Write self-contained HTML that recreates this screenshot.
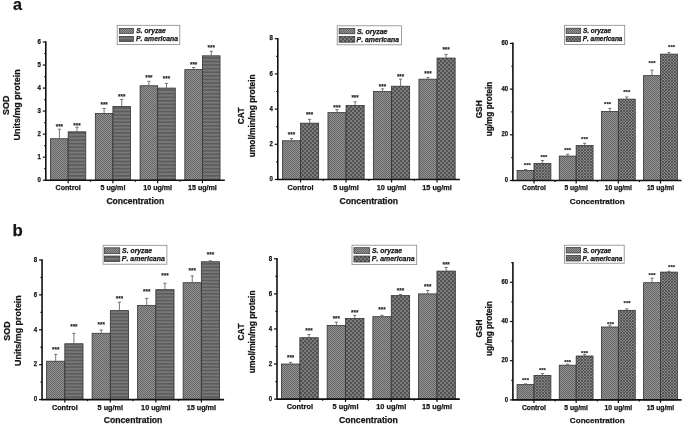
<!DOCTYPE html><html><head><meta charset="utf-8"><style>html,body{margin:0;padding:0;background:#fff;width:685px;height:426px;overflow:hidden}svg{display:block;filter:grayscale(1)}text{font-family:"Liberation Sans", sans-serif;font-weight:bold;fill:#151515;stroke:#151515;stroke-width:0.25px;font-kerning:none}.st{stroke-width:0.12px}</style></head><body>
<svg width="685" height="426" viewBox="0 0 685 426">
<defs>
<pattern id="fineS" width="2" height="2" patternUnits="userSpaceOnUse"><rect width="2" height="2" fill="#929292"/><rect width="1" height="1" fill="#666"/><rect x="1" y="1" width="1" height="1" fill="#666"/></pattern>
<pattern id="hstr" width="4" height="3.57" patternUnits="userSpaceOnUse"><rect width="4" height="3.57" fill="#787878"/><rect width="4" height="1.7" fill="#5c5c5c"/></pattern>
<pattern id="hstr2" width="4" height="3.33" patternUnits="userSpaceOnUse"><rect width="4" height="3.33" fill="#787878"/><rect width="4" height="1.6" fill="#5c5c5c"/></pattern>
<pattern id="chk" width="4" height="4" patternUnits="userSpaceOnUse"><rect width="4" height="4" fill="#7c7c7c"/><rect width="2" height="2" fill="#525252"/><rect x="2" y="2" width="2" height="2" fill="#525252"/></pattern>
<pattern id="dia" width="3" height="3" patternUnits="userSpaceOnUse"><rect width="3" height="3" fill="#888"/><path d="M0 0L3 3M3 0L0 3" stroke="#474747" stroke-width="0.8"/></pattern>
</defs>
<rect width="685" height="426" fill="#fff"/>
<text x="12.9" y="10.1" style="font-size:16.2px">a</text>
<text x="12.6" y="235.5" style="font-size:16.8px">b</text>
<rect x="50.57" y="138.74" width="17.6" height="41.46" fill="url(#fineS)" stroke="#333" stroke-width="0.8"/>
<path d="M59.38 138.74V129.2M57.77 129.2H60.98" stroke="#666" stroke-width="0.9" fill="none"/>
<text x="59.38" y="128.6" text-anchor="middle" class="st" style="font-size:6.3px">***</text>
<rect x="68.17" y="131.83" width="17.6" height="48.37" fill="url(#hstr)" stroke="#333" stroke-width="0.8"/>
<path d="M76.97 131.83V127.3M75.38 127.3H78.57" stroke="#666" stroke-width="0.9" fill="none"/>
<text x="76.97" y="127.9" text-anchor="middle" class="st" style="font-size:6.3px">***</text>
<rect x="95.32" y="113.4" width="17.6" height="66.8" fill="url(#fineS)" stroke="#333" stroke-width="0.8"/>
<path d="M104.12 113.4V108.5M102.52 108.5H105.72" stroke="#666" stroke-width="0.9" fill="none"/>
<text x="104.12" y="106.7" text-anchor="middle" class="st" style="font-size:6.3px">***</text>
<rect x="112.92" y="106.49" width="17.6" height="73.71" fill="url(#hstr)" stroke="#333" stroke-width="0.8"/>
<path d="M121.72 106.49V99.4M120.12 99.4H123.32" stroke="#666" stroke-width="0.9" fill="none"/>
<text x="121.72" y="98.5" text-anchor="middle" class="st" style="font-size:6.3px">***</text>
<rect x="140.08" y="85.76" width="17.6" height="94.44" fill="url(#fineS)" stroke="#333" stroke-width="0.8"/>
<path d="M148.88 85.76V81.3M147.28 81.3H150.48" stroke="#666" stroke-width="0.9" fill="none"/>
<text x="148.88" y="80" text-anchor="middle" class="st" style="font-size:6.3px">***</text>
<rect x="157.68" y="88.07" width="17.6" height="92.13" fill="url(#hstr)" stroke="#333" stroke-width="0.8"/>
<path d="M166.48 88.07V83.4M164.88 83.4H168.08" stroke="#666" stroke-width="0.9" fill="none"/>
<text x="166.48" y="80.9" text-anchor="middle" class="st" style="font-size:6.3px">***</text>
<rect x="184.83" y="69.64" width="17.6" height="110.56" fill="url(#fineS)" stroke="#333" stroke-width="0.8"/>
<path d="M193.63 69.64V67.5M192.03 67.5H195.23" stroke="#666" stroke-width="0.9" fill="none"/>
<text x="193.63" y="67.3" text-anchor="middle" class="st" style="font-size:6.3px">***</text>
<rect x="202.43" y="55.82" width="17.6" height="124.38" fill="url(#hstr)" stroke="#333" stroke-width="0.8"/>
<path d="M211.23 55.82V51.3M209.63 51.3H212.83" stroke="#666" stroke-width="0.9" fill="none"/>
<text x="211.23" y="50.4" text-anchor="middle" class="st" style="font-size:6.3px">***</text>
<path d="M45.8 41.2V180.2H224.8" stroke="#111" stroke-width="1.6" fill="none"/>
<path d="M42.8 180.2H45.8" stroke="#111" stroke-width="1.2"/>
<path d="M44.2 168.68H45.8" stroke="#111" stroke-width="1.2"/>
<path d="M42.8 157.17H45.8" stroke="#111" stroke-width="1.2"/>
<path d="M44.2 145.65H45.8" stroke="#111" stroke-width="1.2"/>
<path d="M42.8 134.13H45.8" stroke="#111" stroke-width="1.2"/>
<path d="M44.2 122.62H45.8" stroke="#111" stroke-width="1.2"/>
<path d="M42.8 111.1H45.8" stroke="#111" stroke-width="1.2"/>
<path d="M44.2 99.58H45.8" stroke="#111" stroke-width="1.2"/>
<path d="M42.8 88.07H45.8" stroke="#111" stroke-width="1.2"/>
<path d="M44.2 76.55H45.8" stroke="#111" stroke-width="1.2"/>
<path d="M42.8 65.03H45.8" stroke="#111" stroke-width="1.2"/>
<path d="M44.2 53.52H45.8" stroke="#111" stroke-width="1.2"/>
<path d="M42.8 42H45.8" stroke="#111" stroke-width="1.2"/>
<text x="41" y="181.91" text-anchor="end" textLength="3.39" lengthAdjust="spacingAndGlyphs" style="font-size:7px">0</text>
<text x="41" y="158.87" text-anchor="end" textLength="3.39" lengthAdjust="spacingAndGlyphs" style="font-size:7px">1</text>
<text x="41" y="135.84" text-anchor="end" textLength="3.39" lengthAdjust="spacingAndGlyphs" style="font-size:7px">2</text>
<text x="41" y="112.81" text-anchor="end" textLength="3.39" lengthAdjust="spacingAndGlyphs" style="font-size:7px">3</text>
<text x="41" y="89.77" text-anchor="end" textLength="3.39" lengthAdjust="spacingAndGlyphs" style="font-size:7px">4</text>
<text x="41" y="66.74" text-anchor="end" textLength="3.39" lengthAdjust="spacingAndGlyphs" style="font-size:7px">5</text>
<text x="41" y="43.71" text-anchor="end" textLength="3.39" lengthAdjust="spacingAndGlyphs" style="font-size:7px">6</text>
<path d="M68.17 180.2V183.2" stroke="#111" stroke-width="1.2"/>
<text x="68.17" y="190.3" text-anchor="middle" style="font-size:7.12px">Control</text>
<path d="M112.92 180.2V183.2" stroke="#111" stroke-width="1.2"/>
<path d="M90.55 180.2V181.8" stroke="#111" stroke-width="1.2"/>
<text x="112.92" y="190.3" text-anchor="middle" style="font-size:7.12px">5 ug/ml</text>
<path d="M157.68 180.2V183.2" stroke="#111" stroke-width="1.2"/>
<path d="M135.3 180.2V181.8" stroke="#111" stroke-width="1.2"/>
<text x="157.68" y="190.3" text-anchor="middle" style="font-size:7.12px">10 ug/ml</text>
<path d="M202.43 180.2V183.2" stroke="#111" stroke-width="1.2"/>
<path d="M180.05 180.2V181.8" stroke="#111" stroke-width="1.2"/>
<text x="202.43" y="190.3" text-anchor="middle" style="font-size:7.12px">15 ug/ml</text>
<text x="135.3" y="203.9" text-anchor="middle" style="font-size:8.54px">Concentration</text>
<rect x="117.2" y="25.3" width="62.6" height="19.2" fill="#fff" stroke="#888" stroke-width="0.8"/>
<rect x="119.3" y="28.4" width="14.1" height="5" fill="url(#fineS)" stroke="#333" stroke-width="0.7"/>
<rect x="119.3" y="36.4" width="14.1" height="5.2" fill="url(#hstr)" stroke="#333" stroke-width="0.7"/>
<text x="136.3" y="33.3" style="font-size:6.71px;font-style:italic">S. oryzae</text>
<text x="136" y="41.44" style="font-size:6.81px;font-style:italic">P. americana</text>
<text x="9.2" y="105.3" text-anchor="middle" transform="rotate(-90 9.2 105.3)" style="font-size:8.88px">SOD</text>
<text x="20.5" y="104.9" text-anchor="middle" transform="rotate(-90 20.5 104.9)" style="font-size:8.95px">Units/mg protein</text>
<rect x="282.45" y="140.78" width="18.1" height="38.72" fill="url(#fineS)" stroke="#333" stroke-width="0.8"/>
<path d="M291.5 140.78V138.6M289.9 138.6H293.1" stroke="#666" stroke-width="0.9" fill="none"/>
<text x="291.5" y="136.8" text-anchor="middle" class="st" style="font-size:6.3px">***</text>
<rect x="300.55" y="123.18" width="18.1" height="56.32" fill="url(#chk)" stroke="#333" stroke-width="0.8"/>
<path d="M309.6 123.18V119.4M308 119.4H311.2" stroke="#666" stroke-width="0.9" fill="none"/>
<text x="309.6" y="117.1" text-anchor="middle" class="st" style="font-size:6.3px">***</text>
<rect x="327.95" y="112.62" width="18.1" height="66.88" fill="url(#fineS)" stroke="#333" stroke-width="0.8"/>
<path d="M337 112.62V109.6M335.4 109.6H338.6" stroke="#666" stroke-width="0.9" fill="none"/>
<text x="337" y="109.5" text-anchor="middle" class="st" style="font-size:6.3px">***</text>
<rect x="346.05" y="105.58" width="18.1" height="73.92" fill="url(#chk)" stroke="#333" stroke-width="0.8"/>
<path d="M355.1 105.58V101.8M353.5 101.8H356.7" stroke="#666" stroke-width="0.9" fill="none"/>
<text x="355.1" y="99.7" text-anchor="middle" class="st" style="font-size:6.3px">***</text>
<rect x="373.45" y="91.5" width="18.1" height="88" fill="url(#fineS)" stroke="#333" stroke-width="0.8"/>
<path d="M382.5 91.5V88.9M380.9 88.9H384.1" stroke="#666" stroke-width="0.9" fill="none"/>
<text x="382.5" y="88.9" text-anchor="middle" class="st" style="font-size:6.3px">***</text>
<rect x="391.55" y="86.22" width="18.1" height="93.28" fill="url(#chk)" stroke="#333" stroke-width="0.8"/>
<path d="M400.6 86.22V79.1M399 79.1H402.2" stroke="#666" stroke-width="0.9" fill="none"/>
<text x="400.6" y="79.4" text-anchor="middle" class="st" style="font-size:6.3px">***</text>
<rect x="418.95" y="79.18" width="18.1" height="100.32" fill="url(#fineS)" stroke="#333" stroke-width="0.8"/>
<path d="M428 79.18V77.4M426.4 77.4H429.6" stroke="#666" stroke-width="0.9" fill="none"/>
<text x="428" y="76.1" text-anchor="middle" class="st" style="font-size:6.3px">***</text>
<rect x="437.05" y="58.06" width="18.1" height="121.44" fill="url(#chk)" stroke="#333" stroke-width="0.8"/>
<path d="M446.1 58.06V54.5M444.5 54.5H447.7" stroke="#666" stroke-width="0.9" fill="none"/>
<text x="446.1" y="52.4" text-anchor="middle" class="st" style="font-size:6.3px">***</text>
<path d="M277.8 37.9V179.5H459.8" stroke="#111" stroke-width="1.6" fill="none"/>
<path d="M274.8 179.5H277.8" stroke="#111" stroke-width="1.2"/>
<path d="M276.2 161.9H277.8" stroke="#111" stroke-width="1.2"/>
<path d="M274.8 144.3H277.8" stroke="#111" stroke-width="1.2"/>
<path d="M276.2 126.7H277.8" stroke="#111" stroke-width="1.2"/>
<path d="M274.8 109.1H277.8" stroke="#111" stroke-width="1.2"/>
<path d="M276.2 91.5H277.8" stroke="#111" stroke-width="1.2"/>
<path d="M274.8 73.9H277.8" stroke="#111" stroke-width="1.2"/>
<path d="M276.2 56.3H277.8" stroke="#111" stroke-width="1.2"/>
<path d="M274.8 38.7H277.8" stroke="#111" stroke-width="1.2"/>
<text x="273" y="181.21" text-anchor="end" textLength="3.39" lengthAdjust="spacingAndGlyphs" style="font-size:7px">0</text>
<text x="273" y="146.01" text-anchor="end" textLength="3.39" lengthAdjust="spacingAndGlyphs" style="font-size:7px">2</text>
<text x="273" y="110.81" text-anchor="end" textLength="3.39" lengthAdjust="spacingAndGlyphs" style="font-size:7px">4</text>
<text x="273" y="75.61" text-anchor="end" textLength="3.39" lengthAdjust="spacingAndGlyphs" style="font-size:7px">6</text>
<text x="273" y="40.41" text-anchor="end" textLength="3.39" lengthAdjust="spacingAndGlyphs" style="font-size:7px">8</text>
<path d="M300.55 179.5V182.5" stroke="#111" stroke-width="1.2"/>
<text x="300.55" y="189.73" text-anchor="middle" style="font-size:7.31px">Control</text>
<path d="M346.05 179.5V182.5" stroke="#111" stroke-width="1.2"/>
<path d="M323.3 179.5V181.1" stroke="#111" stroke-width="1.2"/>
<text x="346.05" y="189.73" text-anchor="middle" style="font-size:7.31px">5 ug/ml</text>
<path d="M391.55 179.5V182.5" stroke="#111" stroke-width="1.2"/>
<path d="M368.8 179.5V181.1" stroke="#111" stroke-width="1.2"/>
<text x="391.55" y="189.73" text-anchor="middle" style="font-size:7.31px">10 ug/ml</text>
<path d="M437.05 179.5V182.5" stroke="#111" stroke-width="1.2"/>
<path d="M414.3 179.5V181.1" stroke="#111" stroke-width="1.2"/>
<text x="437.05" y="189.73" text-anchor="middle" style="font-size:7.31px">15 ug/ml</text>
<text x="368.8" y="204" text-anchor="middle" style="font-size:8.64px">Concentration</text>
<rect x="337.2" y="25.8" width="64.3" height="19" fill="#fff" stroke="#888" stroke-width="0.8"/>
<rect x="339.1" y="28.4" width="15.7" height="5.4" fill="url(#fineS)" stroke="#333" stroke-width="0.7"/>
<rect x="339.1" y="36.4" width="15.7" height="5.8" fill="url(#chk)" stroke="#333" stroke-width="0.7"/>
<text x="356.9" y="33.6" style="font-size:6.97px;font-style:italic">S. oryzae</text>
<text x="356.6" y="41.77" style="font-size:6.89px;font-style:italic">P. americana</text>
<text x="243.9" y="115.85" text-anchor="middle" transform="rotate(-90 243.9 115.85)" style="font-size:8.2px">CAT</text>
<text x="254.9" y="115.8" text-anchor="middle" transform="rotate(-90 254.9 115.8)" style="font-size:8.39px">umol/min/mg protein</text>
<rect x="517.09" y="170.45" width="16.9" height="10.05" fill="url(#fineS)" stroke="#333" stroke-width="0.8"/>
<path d="M525.54 170.45V169.6M523.94 169.6H527.14" stroke="#666" stroke-width="0.9" fill="none"/>
<text x="527.34" y="166.76" text-anchor="middle" class="st" style="font-size:6px">***</text>
<rect x="533.99" y="163.36" width="16.9" height="17.14" fill="url(#dia)" stroke="#333" stroke-width="0.8"/>
<path d="M542.44 163.36V160.5M540.84 160.5H544.04" stroke="#666" stroke-width="0.9" fill="none"/>
<text x="543.94" y="159.16" text-anchor="middle" class="st" style="font-size:6px">***</text>
<rect x="559.26" y="156.05" width="16.9" height="24.45" fill="url(#fineS)" stroke="#333" stroke-width="0.8"/>
<path d="M567.71 156.05V154.2M566.11 154.2H569.31" stroke="#666" stroke-width="0.9" fill="none"/>
<text x="567.71" y="151.66" text-anchor="middle" class="st" style="font-size:6px">***</text>
<rect x="576.16" y="145.54" width="16.9" height="34.96" fill="url(#dia)" stroke="#333" stroke-width="0.8"/>
<path d="M584.61 145.54V143.3M583.01 143.3H586.21" stroke="#666" stroke-width="0.9" fill="none"/>
<text x="584.61" y="140.66" text-anchor="middle" class="st" style="font-size:6px">***</text>
<rect x="601.44" y="111.49" width="16.9" height="69.01" fill="url(#fineS)" stroke="#333" stroke-width="0.8"/>
<path d="M609.89 111.49V108.4M608.29 108.4H611.49" stroke="#666" stroke-width="0.9" fill="none"/>
<text x="607.59" y="106.26" text-anchor="middle" class="st" style="font-size:6px">***</text>
<rect x="618.34" y="99.15" width="16.9" height="81.35" fill="url(#dia)" stroke="#333" stroke-width="0.8"/>
<path d="M626.79 99.15V97M625.19 97H628.39" stroke="#666" stroke-width="0.9" fill="none"/>
<text x="626.79" y="94.46" text-anchor="middle" class="st" style="font-size:6px">***</text>
<rect x="643.61" y="75.62" width="16.9" height="104.88" fill="url(#fineS)" stroke="#333" stroke-width="0.8"/>
<path d="M652.06 75.62V70.1M650.46 70.1H653.66" stroke="#666" stroke-width="0.9" fill="none"/>
<text x="652.06" y="65.36" text-anchor="middle" class="st" style="font-size:6px">***</text>
<rect x="660.51" y="54.14" width="16.9" height="126.36" fill="url(#dia)" stroke="#333" stroke-width="0.8"/>
<path d="M668.96 54.14V52.6M667.36 52.6H670.56" stroke="#666" stroke-width="0.9" fill="none"/>
<text x="671.56" y="49.36" text-anchor="middle" class="st" style="font-size:6px">***</text>
<path d="M512.9 42.6V180.5H681.6" stroke="#111" stroke-width="1.6" fill="none"/>
<path d="M509.9 180.5H512.9" stroke="#111" stroke-width="1.2"/>
<path d="M511.3 157.65H512.9" stroke="#111" stroke-width="1.2"/>
<path d="M509.9 134.8H512.9" stroke="#111" stroke-width="1.2"/>
<path d="M511.3 111.95H512.9" stroke="#111" stroke-width="1.2"/>
<path d="M509.9 89.1H512.9" stroke="#111" stroke-width="1.2"/>
<path d="M511.3 66.25H512.9" stroke="#111" stroke-width="1.2"/>
<path d="M509.9 43.4H512.9" stroke="#111" stroke-width="1.2"/>
<text x="508.1" y="182.13" text-anchor="end" textLength="3.29" lengthAdjust="spacingAndGlyphs" style="font-size:6.8px">0</text>
<text x="508.1" y="136.43" text-anchor="end" textLength="6.58" lengthAdjust="spacingAndGlyphs" style="font-size:6.8px">20</text>
<text x="508.1" y="90.73" text-anchor="end" textLength="6.58" lengthAdjust="spacingAndGlyphs" style="font-size:6.8px">40</text>
<text x="508.1" y="45.03" text-anchor="end" textLength="6.58" lengthAdjust="spacingAndGlyphs" style="font-size:6.8px">60</text>
<path d="M533.99 180.5V183.5" stroke="#111" stroke-width="1.2"/>
<text x="533.99" y="190.32" text-anchor="middle" style="font-size:6.73px">Control</text>
<path d="M576.16 180.5V183.5" stroke="#111" stroke-width="1.2"/>
<path d="M555.08 180.5V182.1" stroke="#111" stroke-width="1.2"/>
<text x="576.16" y="190.32" text-anchor="middle" style="font-size:6.73px">5 ug/ml</text>
<path d="M618.34 180.5V183.5" stroke="#111" stroke-width="1.2"/>
<path d="M597.25 180.5V182.1" stroke="#111" stroke-width="1.2"/>
<text x="618.34" y="190.32" text-anchor="middle" style="font-size:6.73px">10 ug/ml</text>
<path d="M660.51 180.5V183.5" stroke="#111" stroke-width="1.2"/>
<path d="M639.42 180.5V182.1" stroke="#111" stroke-width="1.2"/>
<text x="660.51" y="190.32" text-anchor="middle" style="font-size:6.73px">15 ug/ml</text>
<text x="597.25" y="204" text-anchor="middle" style="font-size:8.09px">Concentration</text>
<rect x="564.6" y="25.3" width="60.1" height="19.2" fill="#fff" stroke="#888" stroke-width="0.8"/>
<rect x="566.1" y="28.2" width="14.6" height="5.2" fill="url(#fineS)" stroke="#333" stroke-width="0.7"/>
<rect x="566.1" y="36.4" width="14.6" height="5.2" fill="url(#dia)" stroke="#333" stroke-width="0.7"/>
<text x="583" y="33.09" style="font-size:6.39px;font-style:italic">S. oryzae</text>
<text x="582.7" y="41.31" style="font-size:6.44px;font-style:italic">P. americana</text>
<text x="481.6" y="109.35" text-anchor="middle" transform="rotate(-90 481.6 109.35)" style="font-size:8.3px">GSH</text>
<text x="492" y="108.9" text-anchor="middle" transform="rotate(-90 492 108.9)" style="font-size:8.19px">ug/mg protein</text>
<rect x="46.61" y="361.21" width="18.2" height="38.39" fill="url(#fineS)" stroke="#333" stroke-width="0.8"/>
<path d="M55.71 361.21V354.4M54.11 354.4H57.31" stroke="#666" stroke-width="0.9" fill="none"/>
<text x="55.71" y="352.1" text-anchor="middle" class="st" style="font-size:6.3px">***</text>
<rect x="64.81" y="343.76" width="18.2" height="55.84" fill="url(#hstr2)" stroke="#333" stroke-width="0.8"/>
<path d="M73.91 343.76V333.4M72.31 333.4H75.51" stroke="#666" stroke-width="0.9" fill="none"/>
<text x="73.91" y="328.6" text-anchor="middle" class="st" style="font-size:6.3px">***</text>
<rect x="92.12" y="333.29" width="18.2" height="66.31" fill="url(#fineS)" stroke="#333" stroke-width="0.8"/>
<path d="M101.22 333.29V330M99.62 330H102.82" stroke="#666" stroke-width="0.9" fill="none"/>
<text x="101.22" y="327.3" text-anchor="middle" class="st" style="font-size:6.3px">***</text>
<rect x="110.32" y="310.61" width="18.2" height="89" fill="url(#hstr2)" stroke="#333" stroke-width="0.8"/>
<path d="M119.42 310.61V302.2M117.82 302.2H121.02" stroke="#666" stroke-width="0.9" fill="none"/>
<text x="119.42" y="301.4" text-anchor="middle" class="st" style="font-size:6.3px">***</text>
<rect x="137.63" y="305.37" width="18.2" height="94.23" fill="url(#fineS)" stroke="#333" stroke-width="0.8"/>
<path d="M146.73 305.37V298.4M145.13 298.4H148.33" stroke="#666" stroke-width="0.9" fill="none"/>
<text x="146.73" y="294.3" text-anchor="middle" class="st" style="font-size:6.3px">***</text>
<rect x="155.83" y="289.67" width="18.2" height="109.94" fill="url(#hstr2)" stroke="#333" stroke-width="0.8"/>
<path d="M164.93 289.67V283.2M163.33 283.2H166.53" stroke="#666" stroke-width="0.9" fill="none"/>
<text x="164.93" y="278.4" text-anchor="middle" class="st" style="font-size:6.3px">***</text>
<rect x="183.14" y="282.69" width="18.2" height="116.92" fill="url(#fineS)" stroke="#333" stroke-width="0.8"/>
<path d="M192.24 282.69V275.9M190.64 275.9H193.84" stroke="#666" stroke-width="0.9" fill="none"/>
<text x="192.24" y="272.6" text-anchor="middle" class="st" style="font-size:6.3px">***</text>
<rect x="201.34" y="261.75" width="18.2" height="137.86" fill="url(#hstr2)" stroke="#333" stroke-width="0.8"/>
<path d="M210.44 261.75V260.8M208.84 260.8H212.04" stroke="#666" stroke-width="0.9" fill="none"/>
<text x="210.44" y="257" text-anchor="middle" class="st" style="font-size:6.3px">***</text>
<path d="M42.05 259.2V399.6H224.1" stroke="#111" stroke-width="1.6" fill="none"/>
<path d="M39.05 399.6H42.05" stroke="#111" stroke-width="1.2"/>
<path d="M40.45 382.15H42.05" stroke="#111" stroke-width="1.2"/>
<path d="M39.05 364.7H42.05" stroke="#111" stroke-width="1.2"/>
<path d="M40.45 347.25H42.05" stroke="#111" stroke-width="1.2"/>
<path d="M39.05 329.8H42.05" stroke="#111" stroke-width="1.2"/>
<path d="M40.45 312.35H42.05" stroke="#111" stroke-width="1.2"/>
<path d="M39.05 294.9H42.05" stroke="#111" stroke-width="1.2"/>
<path d="M40.45 277.45H42.05" stroke="#111" stroke-width="1.2"/>
<path d="M39.05 260H42.05" stroke="#111" stroke-width="1.2"/>
<text x="37.25" y="401.31" text-anchor="end" textLength="3.39" lengthAdjust="spacingAndGlyphs" style="font-size:7px">0</text>
<text x="37.25" y="366.41" text-anchor="end" textLength="3.39" lengthAdjust="spacingAndGlyphs" style="font-size:7px">2</text>
<text x="37.25" y="331.51" text-anchor="end" textLength="3.39" lengthAdjust="spacingAndGlyphs" style="font-size:7px">4</text>
<text x="37.25" y="296.61" text-anchor="end" textLength="3.39" lengthAdjust="spacingAndGlyphs" style="font-size:7px">6</text>
<text x="37.25" y="261.71" text-anchor="end" textLength="3.39" lengthAdjust="spacingAndGlyphs" style="font-size:7px">8</text>
<path d="M64.81 399.6V402.6" stroke="#111" stroke-width="1.2"/>
<text x="64.81" y="409.79" text-anchor="middle" style="font-size:7.25px">Control</text>
<path d="M110.32 399.6V402.6" stroke="#111" stroke-width="1.2"/>
<path d="M87.56 399.6V401.2" stroke="#111" stroke-width="1.2"/>
<text x="110.32" y="409.79" text-anchor="middle" style="font-size:7.25px">5 ug/ml</text>
<path d="M155.83 399.6V402.6" stroke="#111" stroke-width="1.2"/>
<path d="M133.07 399.6V401.2" stroke="#111" stroke-width="1.2"/>
<text x="155.83" y="409.79" text-anchor="middle" style="font-size:7.25px">10 ug/ml</text>
<path d="M201.34 399.6V402.6" stroke="#111" stroke-width="1.2"/>
<path d="M178.59 399.6V401.2" stroke="#111" stroke-width="1.2"/>
<text x="201.34" y="409.79" text-anchor="middle" style="font-size:7.25px">15 ug/ml</text>
<text x="133.07" y="423.1" text-anchor="middle" style="font-size:8.67px">Concentration</text>
<rect x="103.1" y="245.3" width="63.8" height="18.9" fill="#fff" stroke="#888" stroke-width="0.8"/>
<rect x="104.4" y="247.8" width="15.4" height="5.9" fill="url(#fineS)" stroke="#333" stroke-width="0.7"/>
<rect x="104.4" y="256" width="15.4" height="5.6" fill="url(#hstr2)" stroke="#333" stroke-width="0.7"/>
<text x="122.1" y="253.2" style="font-size:6.85px;font-style:italic">S. oryzae</text>
<text x="121.8" y="261.3" style="font-size:6.97px;font-style:italic">P. americana</text>
<text x="9.5" y="331" text-anchor="middle" transform="rotate(-90 9.5 331)" style="font-size:8.93px">SOD</text>
<text x="21.1" y="330.6" text-anchor="middle" transform="rotate(-90 21.1 330.6)" style="font-size:8.92px">Units/mg protein</text>
<rect x="281.45" y="364.03" width="18.4" height="35.07" fill="url(#fineS)" stroke="#333" stroke-width="0.8"/>
<path d="M290.65 364.03V362.4M289.05 362.4H292.25" stroke="#666" stroke-width="0.9" fill="none"/>
<text x="290.65" y="360.4" text-anchor="middle" class="st" style="font-size:6.3px">***</text>
<rect x="299.85" y="337.72" width="18.4" height="61.38" fill="url(#chk)" stroke="#333" stroke-width="0.8"/>
<path d="M309.05 337.72V334.5M307.45 334.5H310.65" stroke="#666" stroke-width="0.9" fill="none"/>
<text x="309.05" y="333.3" text-anchor="middle" class="st" style="font-size:6.3px">***</text>
<rect x="327.15" y="325.44" width="18.4" height="73.66" fill="url(#fineS)" stroke="#333" stroke-width="0.8"/>
<path d="M336.35 325.44V322.2M334.75 322.2H337.95" stroke="#666" stroke-width="0.9" fill="none"/>
<text x="336.35" y="320.6" text-anchor="middle" class="st" style="font-size:6.3px">***</text>
<rect x="345.55" y="318.43" width="18.4" height="80.67" fill="url(#chk)" stroke="#333" stroke-width="0.8"/>
<path d="M354.75 318.43V315.3M353.15 315.3H356.35" stroke="#666" stroke-width="0.9" fill="none"/>
<text x="354.75" y="314.7" text-anchor="middle" class="st" style="font-size:6.3px">***</text>
<rect x="372.85" y="316.67" width="18.4" height="82.43" fill="url(#fineS)" stroke="#333" stroke-width="0.8"/>
<path d="M382.05 316.67V315.3M380.45 315.3H383.65" stroke="#666" stroke-width="0.9" fill="none"/>
<text x="382.05" y="311.7" text-anchor="middle" class="st" style="font-size:6.3px">***</text>
<rect x="391.25" y="295.63" width="18.4" height="103.47" fill="url(#chk)" stroke="#333" stroke-width="0.8"/>
<path d="M400.45 295.63V294.5M398.85 294.5H402.05" stroke="#666" stroke-width="0.9" fill="none"/>
<text x="400.45" y="292.5" text-anchor="middle" class="st" style="font-size:6.3px">***</text>
<rect x="418.55" y="293.88" width="18.4" height="105.23" fill="url(#fineS)" stroke="#333" stroke-width="0.8"/>
<path d="M427.75 293.88V290.4M426.15 290.4H429.35" stroke="#666" stroke-width="0.9" fill="none"/>
<text x="427.75" y="288.7" text-anchor="middle" class="st" style="font-size:6.3px">***</text>
<rect x="436.95" y="271.08" width="18.4" height="128.02" fill="url(#chk)" stroke="#333" stroke-width="0.8"/>
<path d="M446.15 271.08V267.4M444.55 267.4H447.75" stroke="#666" stroke-width="0.9" fill="none"/>
<text x="446.15" y="267" text-anchor="middle" class="st" style="font-size:6.3px">***</text>
<path d="M277 258V399.1H459.8" stroke="#111" stroke-width="1.6" fill="none"/>
<path d="M274 399.1H277" stroke="#111" stroke-width="1.2"/>
<path d="M275.4 381.56H277" stroke="#111" stroke-width="1.2"/>
<path d="M274 364.03H277" stroke="#111" stroke-width="1.2"/>
<path d="M275.4 346.49H277" stroke="#111" stroke-width="1.2"/>
<path d="M274 328.95H277" stroke="#111" stroke-width="1.2"/>
<path d="M275.4 311.41H277" stroke="#111" stroke-width="1.2"/>
<path d="M274 293.88H277" stroke="#111" stroke-width="1.2"/>
<path d="M275.4 276.34H277" stroke="#111" stroke-width="1.2"/>
<path d="M274 258.8H277" stroke="#111" stroke-width="1.2"/>
<text x="272.2" y="400.81" text-anchor="end" textLength="3.39" lengthAdjust="spacingAndGlyphs" style="font-size:7px">0</text>
<text x="272.2" y="365.73" text-anchor="end" textLength="3.39" lengthAdjust="spacingAndGlyphs" style="font-size:7px">2</text>
<text x="272.2" y="330.66" text-anchor="end" textLength="3.39" lengthAdjust="spacingAndGlyphs" style="font-size:7px">4</text>
<text x="272.2" y="295.58" text-anchor="end" textLength="3.39" lengthAdjust="spacingAndGlyphs" style="font-size:7px">6</text>
<text x="272.2" y="260.51" text-anchor="end" textLength="3.39" lengthAdjust="spacingAndGlyphs" style="font-size:7px">8</text>
<path d="M299.85 399.1V402.1" stroke="#111" stroke-width="1.2"/>
<text x="299.85" y="409.4" text-anchor="middle" style="font-size:7.4px">Control</text>
<path d="M345.55 399.1V402.1" stroke="#111" stroke-width="1.2"/>
<path d="M322.7 399.1V400.7" stroke="#111" stroke-width="1.2"/>
<text x="345.55" y="409.4" text-anchor="middle" style="font-size:7.4px">5 ug/ml</text>
<path d="M391.25 399.1V402.1" stroke="#111" stroke-width="1.2"/>
<path d="M368.4 399.1V400.7" stroke="#111" stroke-width="1.2"/>
<text x="391.25" y="409.4" text-anchor="middle" style="font-size:7.4px">10 ug/ml</text>
<path d="M436.95 399.1V402.1" stroke="#111" stroke-width="1.2"/>
<path d="M414.1 399.1V400.7" stroke="#111" stroke-width="1.2"/>
<text x="436.95" y="409.4" text-anchor="middle" style="font-size:7.4px">15 ug/ml</text>
<text x="368.4" y="423.1" text-anchor="middle" style="font-size:8.7px">Concentration</text>
<rect x="352" y="245.2" width="64.7" height="19.4" fill="#fff" stroke="#888" stroke-width="0.8"/>
<rect x="353.9" y="247.7" width="15.8" height="5.7" fill="url(#fineS)" stroke="#333" stroke-width="0.7"/>
<rect x="353.9" y="256" width="15.8" height="6" fill="url(#chk)" stroke="#333" stroke-width="0.7"/>
<text x="372" y="253" style="font-size:6.85px;font-style:italic">S. oryzae</text>
<text x="371.7" y="261.49" style="font-size:6.95px;font-style:italic">P. americana</text>
<text x="244.2" y="332" text-anchor="middle" transform="rotate(-90 244.2 332)" style="font-size:8.2px">CAT</text>
<text x="255.1" y="331.8" text-anchor="middle" transform="rotate(-90 255.1 331.8)" style="font-size:8.37px">umol/min/mg protein</text>
<rect x="517.09" y="384.61" width="16.9" height="15.29" fill="url(#fineS)" stroke="#333" stroke-width="0.8"/>
<path d="M525.54 384.61V383.9M523.94 383.9H527.14" stroke="#666" stroke-width="0.9" fill="none"/>
<text x="525.54" y="381.76" text-anchor="middle" class="st" style="font-size:6px">***</text>
<rect x="533.99" y="375.4" width="16.9" height="24.5" fill="url(#dia)" stroke="#333" stroke-width="0.8"/>
<path d="M542.44 375.4V373.6M540.84 373.6H544.04" stroke="#666" stroke-width="0.9" fill="none"/>
<text x="542.44" y="371.56" text-anchor="middle" class="st" style="font-size:6px">***</text>
<rect x="559.26" y="365.21" width="16.9" height="34.69" fill="url(#fineS)" stroke="#333" stroke-width="0.8"/>
<path d="M567.71 365.21V364.2M566.11 364.2H569.31" stroke="#666" stroke-width="0.9" fill="none"/>
<text x="567.71" y="364.46" text-anchor="middle" class="st" style="font-size:6px">***</text>
<rect x="576.16" y="356" width="16.9" height="43.9" fill="url(#dia)" stroke="#333" stroke-width="0.8"/>
<path d="M584.61 356V354.3M583.01 354.3H586.21" stroke="#666" stroke-width="0.9" fill="none"/>
<text x="584.61" y="354.96" text-anchor="middle" class="st" style="font-size:6px">***</text>
<rect x="601.44" y="326.99" width="16.9" height="72.91" fill="url(#fineS)" stroke="#333" stroke-width="0.8"/>
<path d="M609.89 326.99V325.2M608.29 325.2H611.49" stroke="#666" stroke-width="0.9" fill="none"/>
<text x="610.59" y="325.76" text-anchor="middle" class="st" style="font-size:6px">***</text>
<rect x="618.34" y="310.33" width="16.9" height="89.57" fill="url(#dia)" stroke="#333" stroke-width="0.8"/>
<path d="M626.79 310.33V308.9M625.19 308.9H628.39" stroke="#666" stroke-width="0.9" fill="none"/>
<text x="627.09" y="304.86" text-anchor="middle" class="st" style="font-size:6px">***</text>
<rect x="643.61" y="282.69" width="16.9" height="117.21" fill="url(#fineS)" stroke="#333" stroke-width="0.8"/>
<path d="M652.06 282.69V278.2M650.46 278.2H653.66" stroke="#666" stroke-width="0.9" fill="none"/>
<text x="652.06" y="277.26" text-anchor="middle" class="st" style="font-size:6px">***</text>
<rect x="660.51" y="272.11" width="16.9" height="127.79" fill="url(#dia)" stroke="#333" stroke-width="0.8"/>
<path d="M668.96 272.11V271.3M667.36 271.3H670.56" stroke="#666" stroke-width="0.9" fill="none"/>
<text x="671.56" y="268.76" text-anchor="middle" class="st" style="font-size:6px">***</text>
<path d="M512.9 261.9V399.9H681.6" stroke="#111" stroke-width="1.6" fill="none"/>
<path d="M509.9 399.9H512.9" stroke="#111" stroke-width="1.2"/>
<path d="M511.3 380.3H512.9" stroke="#111" stroke-width="1.2"/>
<path d="M509.9 360.7H512.9" stroke="#111" stroke-width="1.2"/>
<path d="M511.3 341.1H512.9" stroke="#111" stroke-width="1.2"/>
<path d="M509.9 321.5H512.9" stroke="#111" stroke-width="1.2"/>
<path d="M511.3 301.9H512.9" stroke="#111" stroke-width="1.2"/>
<path d="M509.9 282.3H512.9" stroke="#111" stroke-width="1.2"/>
<path d="M511.3 262.7H512.9" stroke="#111" stroke-width="1.2"/>
<text x="508.1" y="401.53" text-anchor="end" textLength="3.29" lengthAdjust="spacingAndGlyphs" style="font-size:6.8px">0</text>
<text x="508.1" y="362.33" text-anchor="end" textLength="6.58" lengthAdjust="spacingAndGlyphs" style="font-size:6.8px">20</text>
<text x="508.1" y="323.13" text-anchor="end" textLength="6.58" lengthAdjust="spacingAndGlyphs" style="font-size:6.8px">40</text>
<text x="508.1" y="283.93" text-anchor="end" textLength="6.58" lengthAdjust="spacingAndGlyphs" style="font-size:6.8px">60</text>
<path d="M533.99 399.9V402.9" stroke="#111" stroke-width="1.2"/>
<text x="533.99" y="409.75" text-anchor="middle" style="font-size:6.78px">Control</text>
<path d="M576.16 399.9V402.9" stroke="#111" stroke-width="1.2"/>
<path d="M555.08 399.9V401.5" stroke="#111" stroke-width="1.2"/>
<text x="576.16" y="409.75" text-anchor="middle" style="font-size:6.78px">5 ug/ml</text>
<path d="M618.34 399.9V402.9" stroke="#111" stroke-width="1.2"/>
<path d="M597.25 399.9V401.5" stroke="#111" stroke-width="1.2"/>
<text x="618.34" y="409.75" text-anchor="middle" style="font-size:6.78px">10 ug/ml</text>
<path d="M660.51 399.9V402.9" stroke="#111" stroke-width="1.2"/>
<path d="M639.42 399.9V401.5" stroke="#111" stroke-width="1.2"/>
<text x="660.51" y="409.75" text-anchor="middle" style="font-size:6.78px">15 ug/ml</text>
<text x="597.25" y="423.1" text-anchor="middle" style="font-size:8.09px">Concentration</text>
<rect x="564.5" y="245.2" width="59.7" height="18" fill="#fff" stroke="#888" stroke-width="0.8"/>
<rect x="566.2" y="247.5" width="14.4" height="5.5" fill="url(#fineS)" stroke="#333" stroke-width="0.7"/>
<rect x="566.2" y="255.4" width="14.4" height="5.6" fill="url(#dia)" stroke="#333" stroke-width="0.7"/>
<text x="582.9" y="252.54" style="font-size:6.41px;font-style:italic">S. oryzae</text>
<text x="582.6" y="260.5" style="font-size:6.43px;font-style:italic">P. americana</text>
<text x="481.6" y="328.5" text-anchor="middle" transform="rotate(-90 481.6 328.5)" style="font-size:8.35px">GSH</text>
<text x="492.4" y="328.5" text-anchor="middle" transform="rotate(-90 492.4 328.5)" style="font-size:8.22px">ug/mg protein</text>
</svg></body></html>
